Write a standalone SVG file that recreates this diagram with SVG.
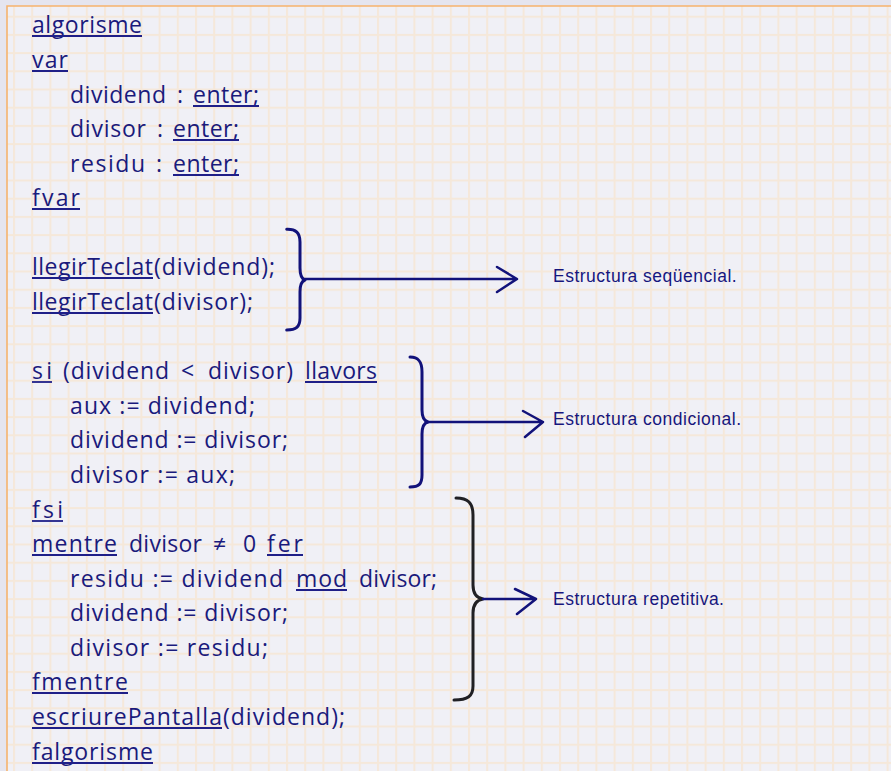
<svg xmlns="http://www.w3.org/2000/svg" width="891" height="771" viewBox="0 0 891 771">
<defs>
<pattern id="grid" x="13" y="15.7" width="18.2" height="18.2" patternUnits="userSpaceOnUse">
<rect width="18.2" height="18.2" fill="#f0f0f6"/>
<rect x="0" y="0" width="2" height="18.2" fill="#f5e8da"/>
<rect x="0" y="0" width="18.2" height="2" fill="#f5e8da"/>
</pattern>
<style>
.c{font-family:"Open Sans","Noto Sans","Liberation Sans",sans-serif;font-size:23px;fill:#1a1a7c}
.u{stroke:#1f1f88;stroke-width:1.8;fill:none}
.lbl{font-family:"Liberation Sans",Arial,sans-serif;font-size:17.5px;letter-spacing:0.5px;fill:#16167e}
.br{fill:none;stroke:#12127a;stroke-width:3;stroke-linecap:round;stroke-linejoin:round}
.brk{fill:none;stroke:#202024;stroke-width:3;stroke-linecap:round;stroke-linejoin:round}
.ar{fill:none;stroke:#12127a;stroke-width:2.5;stroke-linecap:round;stroke-linejoin:round}
</style>
</defs>
<rect width="891" height="771" fill="#e5e5ef"/>
<rect x="7" y="6" width="884" height="765" fill="url(#grid)"/>
<path d="M7,771 L7,6 L891,6" fill="none" stroke="#f6b36e" stroke-width="1.6"/>

<g id="code">
<text class="c" x="32" y="33" textLength="110" lengthAdjust="spacing">algorisme</text>
<line class="u" x1="32" y1="36" x2="142" y2="36"/>
<text class="c" x="32" y="68" textLength="36" lengthAdjust="spacing">var</text>
<line class="u" x1="32" y1="71" x2="68" y2="71"/>

<text class="c" x="70" y="103" textLength="96" lengthAdjust="spacing">dividend</text>
<text class="c" x="177" y="103">:</text>
<text class="c" x="193" y="103" textLength="66" lengthAdjust="spacing">enter;</text>
<line class="u" x1="193" y1="106" x2="259" y2="106"/>

<text class="c" x="70" y="137" textLength="76" lengthAdjust="spacing">divisor</text>
<text class="c" x="157" y="137">:</text>
<text class="c" x="173" y="137" textLength="66" lengthAdjust="spacing">enter;</text>
<line class="u" x1="173" y1="140" x2="239" y2="140"/>

<text class="c" x="70" y="172" textLength="75" lengthAdjust="spacing">residu</text>
<text class="c" x="156" y="172">:</text>
<text class="c" x="173" y="172" textLength="66" lengthAdjust="spacing">enter;</text>
<line class="u" x1="173" y1="175" x2="239" y2="175"/>

<text class="c" x="32" y="206" textLength="48" lengthAdjust="spacing">fvar</text>
<line class="u" x1="32" y1="209" x2="80" y2="209"/>

<text class="c" x="32" y="275" textLength="121" lengthAdjust="spacing">llegirTeclat</text>
<text class="c" x="154" y="275" textLength="121" lengthAdjust="spacing">(dividend);</text>
<line class="u" x1="32" y1="278" x2="153" y2="278"/>
<text class="c" x="32" y="310" textLength="121" lengthAdjust="spacing">llegirTeclat</text>
<text class="c" x="154" y="310" textLength="99" lengthAdjust="spacing">(divisor);</text>
<line class="u" x1="32" y1="313" x2="153" y2="313"/>

<text class="c" x="32" y="379" textLength="20" lengthAdjust="spacing">si</text>
<line class="u" x1="32" y1="382" x2="52" y2="382"/>
<text class="c" x="63" y="379" textLength="106" lengthAdjust="spacing">(dividend</text>
<text class="c" x="181" y="379">&lt;</text>
<text class="c" x="208" y="379" textLength="85" lengthAdjust="spacing">divisor)</text>
<text class="c" x="305" y="379" textLength="72" lengthAdjust="spacing">llavors</text>
<line class="u" x1="305" y1="382" x2="377" y2="382"/>

<text class="c" x="70" y="414" textLength="185" lengthAdjust="spacing">aux := dividend;</text>
<text class="c" x="70" y="448" textLength="218" lengthAdjust="spacing">dividend := divisor;</text>
<text class="c" x="70" y="483" textLength="165" lengthAdjust="spacing">divisor := aux;</text>

<text class="c" x="32" y="518" textLength="31" lengthAdjust="spacing">fsi</text>
<line class="u" x1="32" y1="521" x2="63" y2="521"/>

<text class="c" x="32" y="552" textLength="85" lengthAdjust="spacing">mentre</text>
<line class="u" x1="32" y1="555" x2="117" y2="555"/>
<text class="c" x="129" y="552" textLength="73" lengthAdjust="spacing">divisor</text>
<text class="c" x="213" y="552">≠</text>
<text class="c" x="243" y="552">0</text>
<text class="c" x="267" y="552" textLength="36" lengthAdjust="spacing">fer</text>
<line class="u" x1="267" y1="555" x2="303" y2="555"/>

<text class="c" x="70" y="587" textLength="213" lengthAdjust="spacing">residu := dividend</text>
<text class="c" x="296" y="587" textLength="51" lengthAdjust="spacing">mod</text>
<line class="u" x1="296" y1="590" x2="347" y2="590"/>
<text class="c" x="359" y="587" textLength="78" lengthAdjust="spacing">divisor;</text>

<text class="c" x="70" y="621" textLength="218" lengthAdjust="spacing">dividend := divisor;</text>
<text class="c" x="70" y="656" textLength="198" lengthAdjust="spacing">divisor := residu;</text>

<text class="c" x="32" y="690" textLength="96" lengthAdjust="spacing">fmentre</text>
<line class="u" x1="32" y1="693" x2="128" y2="693"/>

<text class="c" x="32" y="725" textLength="190" lengthAdjust="spacing">escriurePantalla</text>
<line class="u" x1="32" y1="728" x2="222" y2="728"/>
<text class="c" x="223" y="725" textLength="122" lengthAdjust="spacing">(dividend);</text>

<text class="c" x="32" y="760" textLength="121" lengthAdjust="spacing">falgorisme</text>
<line class="u" x1="32" y1="763" x2="153" y2="763"/>
</g>

<g id="seq">
<path class="br" d="M286.7,229.3 C296,229 300,233 300,242 L300,268 C300,276 302,279 305,280 C302,281 300,284 300,292 L300,318 C300,327 296,330 286.7,330"/>
<text class="lbl" x="553" y="282">Estructura seqüencial.</text>
</g>
<g id="cond">
<path class="br" d="M410,357 C419,357 422,362 422,372 L422,410 C422,418 424,421 428,422 C424,423 422,426 422,434 L422,475 C422,484 419,487 410,487"/>
<text class="lbl" x="553" y="425">Estructura condicional.</text>
</g>
<g id="rep">
<path class="brk" d="M456,498 C468,498 473,503 473,515 L473,585 C473,594 477,598 483,599 C477,600 473,604 473,613 L473,686 C473,696 468,700 454,700"/>
<text class="lbl" x="553" y="605">Estructura repetitiva.</text>
</g>

<g id="connectors">
<path class="ar" d="M305,279 L516,279 M497,267 L517,279 L497,292"/>
<path class="ar" d="M428,422 L543,422 M523,411 L543,422 L525,437"/>
<path class="ar" d="M483,599 L536,599 M515,589 L536,599 L517,614"/>
</g>
</svg>
